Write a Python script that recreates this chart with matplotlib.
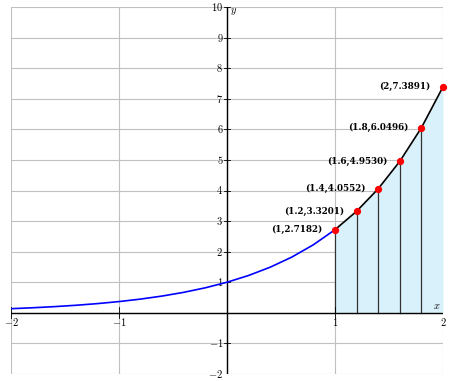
import matplotlib.pyplot as plt

plt.rcParams['mathtext.fontset'] = 'cm'
plt.rcParams['font.family'] = 'serif'
plt.rcParams['font.serif'] = ['DejaVu Serif']

# blue curve y = e^x, read at steps of 0.2 from -2 to 1
curve_x = [-2.0, -1.8, -1.6, -1.4, -1.2, -1.0, -0.8, -0.6, -0.4, -0.2,
           0.0, 0.2, 0.4, 0.6, 0.8, 1.0]
curve_y = [0.1353, 0.1653, 0.2019, 0.2466, 0.3012, 0.3679, 0.4493, 0.5488,
           0.6703, 0.8187, 1.0, 1.2214, 1.4918, 1.8221, 2.2255, 2.7182]

# sample points
pts_x = [1.0, 1.2, 1.4, 1.6, 1.8, 2.0]
pts_y = [2.7182, 3.3201, 4.0552, 4.9530, 6.0496, 7.3891]
pts_lbl = ['(1,2.7182)', '(1.2,3.3201)', '(1.4,4.0552)', '(1.6,4.9530)',
           '(1.8,6.0496)', '(2,7.3891)']

xticks = [-2, -1, 1, 2]
yticks = [-2, -1, 1, 2, 3, 4, 5, 6, 7, 8, 9, 10]

fig = plt.figure(figsize=(4.5, 3.81), dpi=100)
ax = fig.add_axes([0.0244, 0.0184, 0.96, 0.9632])
ax.set_xlim(-2, 2)
ax.set_ylim(-2, 10)

# grid
for gx in range(-2, 3):
    ax.axvline(gx, color='#c0c0c0', lw=0.8, zorder=0)
for gy in range(-2, 11):
    ax.axhline(gy, color='#c0c0c0', lw=0.8, zorder=0)
for s in ax.spines.values():
    s.set_visible(False)
ax.set_xticks([])
ax.set_yticks([])

# filled area
ax.fill_between(pts_x, 0, pts_y, color='#d9f1fa', zorder=1, lw=0)
for px, py in zip(pts_x[:-1], pts_y[:-1]):
    ax.plot([px, px], [0, py], color='#333333', lw=0.9, zorder=2)

# axes through origin
ax.axhline(0, color='black', lw=1.0, zorder=3)
ax.axvline(0, color='black', lw=1.0, zorder=3)

tk = 0.06
for t in xticks:
    ax.plot([t, t], [-tk * 3, tk * 3], color='black', lw=0.6, zorder=3)
    ax.text(t, -0.12, r'$%d$' % t if t > 0 else r'$-%d$' % -t,
            ha='center', va='top', fontsize=7.5)
for t in yticks:
    ax.plot([-0.025, 0.025], [t, t], color='black', lw=0.6, zorder=3)
    ax.text(-0.035, t, r'$%d$' % t if t > 0 else r'$-%d$' % -t,
            ha='right', va='center', fontsize=7.5)

ax.text(0.03, 9.85, r'$y$', ha='left', va='center', fontsize=7.5)
ax.text(1.94, 0.2, r'$x$', ha='center', va='center', fontsize=7.5)

# curves
ax.plot(curve_x, curve_y, color='blue', lw=1.2, zorder=4)
ax.plot(pts_x, pts_y, color='black', lw=1.2, zorder=4)
ax.plot(pts_x, pts_y, 'o', color='red', ms=4.2, zorder=5, clip_on=False)

for px, py, lbl in zip(pts_x, pts_y, pts_lbl):
    ax.annotate(lbl, (px, py), xytext=(-9, 0),
                textcoords='offset points', ha='right', va='center',
                fontsize=6.3, fontweight='bold', zorder=6)

fig.savefig('out.png', dpi=100)
